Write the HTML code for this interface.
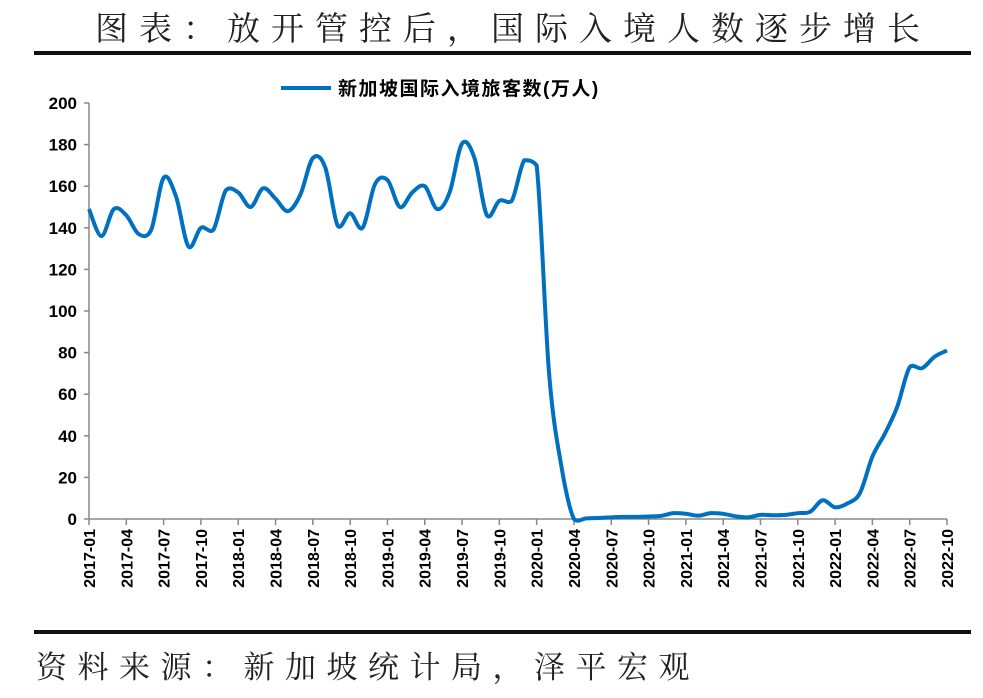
<!DOCTYPE html>
<html><head><meta charset="utf-8"><style>
body{margin:0;background:#fff;width:983px;height:693px;overflow:hidden}
svg text{font-family:"Liberation Sans","Noto Sans CJK SC",sans-serif}
</style></head><body>
<svg id="c" width="983" height="693">
<text x="95" y="40" font-size="33" letter-spacing="11" style="font-family:'Liberation Serif','Noto Serif CJK SC',serif" fill="#222">图表：放开管控后，国际入境人数逐步增长</text>
<rect x="34" y="51" width="937" height="4" fill="#111"/>
<rect x="34" y="630" width="937" height="4" fill="#111"/>
<text x="36" y="678" font-size="31" letter-spacing="10.5" style="font-family:'Liberation Serif','Noto Serif CJK SC',serif" fill="#222">资料来源：新加坡统计局，泽平宏观</text>
<g>
<line x1="281" y1="88" x2="331" y2="88" stroke="#0070C0" stroke-width="4"/>
<text x="338" y="95" font-size="19" font-weight="bold" letter-spacing="1.5" fill="#000">新加坡国际入境旅客数(万人)</text>
</g>
<g id="axes"></g>
<path id="line" fill="none" stroke="#0070C0" stroke-width="4" stroke-linejoin="round"/>
</svg>
<script>
const values=[149,136,149,146,137,139,164,155,131,140,139,158,157,150,159,154,148,156,173.5,169,141,147,140,161,163,150,157,160,149,157,180.5,173.5,146,153,153,172.5,170,70,25,0,0.3,0.5,0.8,1,1,1.2,1.5,2.8,2.5,1.6,2.8,2.5,1.3,0.8,2,1.8,2,2.8,3.5,9,5.6,7.5,12.5,30,41,54,73,72.5,78,81];
const yTicks=[0,20,40,60,80,100,120,140,160,180,200];
const startYear=2017,startMonth=1;
const X0=89,X1=947,Y0=519,Y1=103;
const ns="http://www.w3.org/2000/svg";
const n=values.length;
const xs=i=>X0+(X1-X0)*i/(n-1);
const ys=v=>Y0-(Y0-Y1)*v/200;
const ax=document.getElementById('axes');
function mk(t,a){const e=document.createElementNS(ns,t);for(const k in a)e.setAttribute(k,a[k]);ax.appendChild(e);return e;}
let e=mk('line',{x1:X0,y1:Y1,x2:X0,y2:Y0,stroke:'#888','stroke-width':1.5});


e=mk('line',{x1:X0,y1:Y0,x2:X1,y2:Y0,stroke:'#888','stroke-width':1.5});


yTicks.forEach(v=>{
  mk('line',{x1:X0-5,y1:ys(v),x2:X0,y2:ys(v),stroke:'#888','stroke-width':1.5});
  const t=mk('text',{x:X0-12,y:ys(v)+6,'text-anchor':'end','font-size':17,'font-weight':'bold',fill:'#000'});
  t.textContent=v;
  
  
});
for(let i=0;i<n;i+=3){
  const x=xs(i);
  mk('line',{x1:x,y1:Y0,x2:x,y2:Y0+6,stroke:'#888','stroke-width':1.5});
  const m=startMonth-1+i, yr=startYear+Math.floor(m/12), mo=m%12+1;
  const t=mk('text',{transform:`translate(${x+6},${Y0+10}) rotate(-90)`,'text-anchor':'end','font-size':16,'font-weight':'bold',fill:'#000'});
  t.textContent=yr+'-'+String(mo).padStart(2,'0');
  
  
}
const pts=values.map((v,i)=>[xs(i),ys(v)]);
let d='M'+pts[0][0]+','+pts[0][1];
for(let i=0;i<n-1;i++){
  const p0=pts[Math.max(0,i-1)],p1=pts[i],p2=pts[i+1],p3=pts[Math.min(n-1,i+2)];
  let c1=[p1[0]+(p2[0]-p0[0])/6,p1[1]+(p2[1]-p0[1])/6];
  let c2=[p2[0]-(p3[0]-p1[0])/6,p2[1]-(p3[1]-p1[1])/6];
  const span=Math.abs(p2[1]-p1[1]);
  const lo=Math.min(p1[1],p2[1])-span*0.15-4,hi=Math.max(p1[1],p2[1])+span*0.15+4;
  const big=span>60||Math.abs(p1[1]-p0[1])>60||Math.abs(p3[1]-p2[1])>60;
  if(big){
    const lo2=Math.min(p1[1],p2[1]),hi2=Math.max(p1[1],p2[1]);
    c1[1]=Math.min(hi2,Math.max(lo2,c1[1]));c2[1]=Math.min(hi2,Math.max(lo2,c2[1]));
  }else{
    c1[1]=Math.min(hi,Math.max(lo,c1[1]));c2[1]=Math.min(hi,Math.max(lo,c2[1]));
  }
  d+=` C${c1[0]},${c1[1]} ${c2[0]},${c2[1]} ${p2[0]},${p2[1]}`;
}
document.getElementById('line').setAttribute('d',d);
</script>
</body></html>
